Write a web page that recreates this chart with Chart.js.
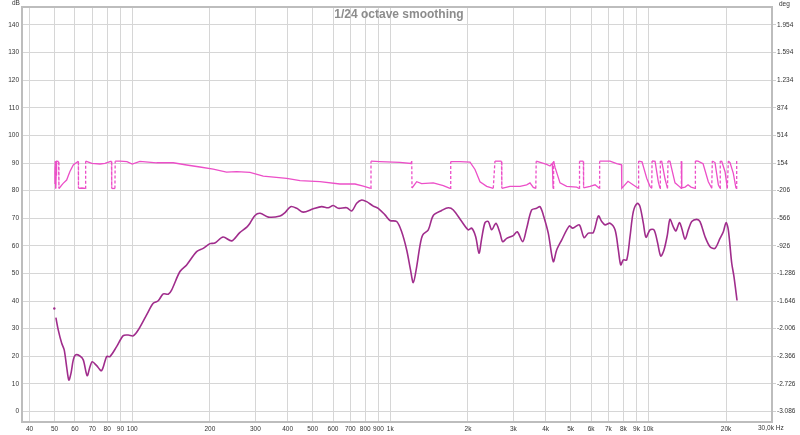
<!DOCTYPE html>
<html lang="en">
<head>
    <meta charset="UTF-8">
    <title>1/24 octave smoothing</title>
    <script src="https://cdn.jsdelivr.net/npm/chart.js"></script>
    <style>
        body { margin: 0; background: #fff; }
    </style>
</head>
<body>
    <canvas id="rewChart" width="800" height="435"></canvas>
    <script>
        // frequency response
        const magFreq = [49.9, null, 50.6, 51.7, 53.3, 54.5, 55.7, 56.8, 57.9, 59.1, 60.3, 62.7, 64.6, 66.9, 68.6, 70.0, 72.8, 76.1, 79.6, 82.0, 87.0,
            92.3, 96.5, 100.9, 105.5, 113.7, 120.6, 126.1, 131.9, 137.9, 142.1, 153.1, 162.5, 177.7, 188.4, 200, 209, 225, 243, 261, 278,
            286, 299, 313, 337, 374, 391, 411, 434, 460, 503, 542, 575, 601, 629, 678, 709, 741, 775, 810, 859, 898, 954, 997,
            1059, 1107, 1158, 1197, 1228, 1266, 1303, 1335, 1404, 1468, 1582, 1678, 1755, 1892, 2006, 2068, 2143, 2207, 2261,
            2329, 2398, 2472, 2568, 2662, 2727, 2826, 2997, 3106, 3260, 3378, 3532, 3693, 3803, 3917, 4095, 4282, 4414, 4615,
            4940, 5091, 5400, 5635, 5855, 6122, 6402, 6599, 6796, 7106, 7430, 7652, 7818, 8000, 8247, 8493, 8747, 9065, 9286,
            9564, 9797, 10150, 10520, 10840, 11170, 11500, 11850, 12130, 12500, 12800, 13190, 13470, 13880, 14290, 14730,
            15400, 15860, 16590, 17340, 18130, 18960, 19530, 20010, 20420, 21050, 21480, 22070];
        const magDb = [37.3, null, 34.0, 29.5, 24.7, 22.3, 16.2, 11.4, 13.8, 18.7, 20.5, 20.1, 18.7, 13.0, 16.2, 18.0, 16.6, 14.8, 19.9, 19.9, 23.5,
            27.5, 27.7, 27.4, 29.5, 35.0, 39.2, 40.1, 42.6, 42.5, 44.0, 50.7, 53.1, 57.9, 59.1, 60.8, 61.0, 63.2, 61.8, 64.8, 66.8,
            68.2, 71.0, 71.8, 70.4, 70.8, 72.0, 74.2, 73.6, 72.2, 73.4, 74.2, 73.8, 74.6, 73.6, 73.8, 72.6, 75.4, 76.6, 76.0, 74.4, 73.6, 71.2, 69.2,
            68.8, 65.1, 58.5, 51.5, 46.7, 52.5, 60.0, 63.9, 65.8, 71.0, 72.8, 73.8, 73.0, 68.8, 65.8, 66.4, 63.3, 57.3, 62.7,
            68.4, 68.8, 65.8, 68.2, 64.6, 61.5, 62.7, 63.7, 65.1, 61.5, 66.4, 73.0, 73.6, 74.2, 71.2, 64.6, 54.3, 58.5, 62.1,
            67.2, 66.4, 67.6, 63.0, 64.6, 64.8, 70.8, 68.8, 67.6, 68.2, 65.8, 58.5, 53.1, 54.9, 54.9, 63.3, 72.4, 75.4, 74.2,
            68.2, 63.1, 65.8, 65.8, 61.5, 56.3, 58.5, 63.9, 69.6, 66.9, 65.4, 68.4, 66.4, 62.4, 65.8, 68.8,
            69.6, 68.8, 63.3, 59.7, 59.1, 62.7, 65.1, 68.4, 65.8, 53.7, 48.8, 40.2];

        // phase, wrapped to +/-180 deg
        const phaseFreq = [49.9, 50.2, 50.4, 50.5, 50.7, 50.9, 51.8, 52.0, 54.0, 55.7, 57.3, 59.1, 61.8, 61.9, 63.8, 65.9, 66.0,
            69.8, 75.0, 78.4, 83.1, 83.3, 85.7, 85.9, 89.6, 95.4, 100, 107.1, 124.3, 144.2, 162.5, 183, 206, 232, 254, 286,
            322, 397, 447, 534, 638, 730, 786, 840, 842, 912, 1090, 1203, 1211, 1214, 1266, 1323, 1468, 1605, 1704, 1715,
            1863, 2037, 2130, 2227, 2364, 2507, 2545, 2698, 2706, 2910, 3182, 3378, 3479, 3583, 3664, 3677, 4037, 4158,
            4245, 4260, 4275, 4295, 4348, 4547, 4827, 5278, 5400, 5413, 5600, 5613, 5944, 6216, 6459, 6477, 7106, 7543,
            7873, 7891, 8342, 8724, 9146, 9170, 9453, 9857, 10150, 10310, 10340, 10620, 10930, 11100, 11130, 11270,
            11610, 11870, 11920, 12130, 12690, 13270, 13390, 13430, 13460, 13500, 13880, 14250, 14640, 15170, 15220,
            15580, 16300, 17080, 17610, 17700, 18130, 18680, 18960, 19000, 19250, 19830, 20240, 20420, 20730, 21350,
            21870, 22000];
        const phaseDeg = [-110, 60, 178, -178, 0, 178, 175, -178, -111, -68, 41, 128, 178, -176, -172, -178, 178,
            150, 141, 150, 178, -178, -178, 178, 178, 172, 141, 175, 157, 157, 128, 102, 73, 35, 41, 33,
            -16, -46, -77, -90, -120, -120, -146, -176, 178, 172, 163, 148, 178, -172, -90, -115, -104, -140, -176, 172,
            172, 165, 70, -90, -150, -176, 178, 178, -176, -150, -150, -130, -105, -165, -178, 178, 135, 115,
            150, 0, -178, 178, 100, -105, -150, -160, -178, 178, 178, -170, -150, -130, -176, 178, 178, 145,
            130, -176, -85, -130, -176, 180, 170, -45, -150, -176, 180, 175, -90, -176, 180, 175,
            -55, -176, 180, 175, -105, -160, -176, 178, 0, -170, -160, -130, -160, -176, 180,
            178, 145, -90, -176, 180, 160, -130, -176, 180, 175, 40, -176, 180, 160, 20,
            -176, 180];

        const xTicks = [40, 50, 60, 70, 80, 90, 100, 200, 300, 400, 500, 600, 700, 800, 900, 1000,
            2000, 3000, 4000, 5000, 6000, 7000, 8000, 9000, 10000, 20000, 30000];
        const xTickLabels = ['40', '50', '60', '70', '80', '90', '100', '200', '300', '400', '500', '600', '700', '800', '900', '1k',
            '2k', '3k', '4k', '5k', '6k', '7k', '8k', '9k', '10k', '20k', ''];
        const dbTicks = [0, 10, 20, 30, 40, 50, 60, 70, 80, 90, 100, 110, 120, 130, 140];
        const degTicks = [-3086, -2726, -2366, -2006, -1646, -1286, -926, -566, -206, 154, 514, 874, 1234, 1594, 1954];
        const degTickLabels = ['-3.086', '-2.726', '-2.366', '-2.006', '-1.646', '-1.286', '-926', '-566', '-206', '154',
            '514', '874', '1.234', '1.594', '1.954'];

        const dbMin = -3.8, dbMax = 146.5;
        // the phase axis sits on the dB axis: 154 deg at 90 dB, 360 deg per 10 dB
        const degMin = 154 + (dbMin - 90) * 36;
        const degMax = 154 + (dbMax - 90) * 36;

        const font = { family: "'Liberation Sans', Arial, sans-serif", size: 6.5 };

        const frame = {
            id: 'frame',
            afterDraw(chart) {
                const { ctx, chartArea: a } = chart;
                ctx.save();
                ctx.strokeStyle = '#bdbdbd';
                ctx.lineWidth = 2;
                ctx.strokeRect(a.left, a.top, a.right - a.left, a.bottom - a.top);
                ctx.fillStyle = '#8c8c8c';
                ctx.font = "bold 12px 'Liberation Sans', Arial, sans-serif";
                ctx.textAlign = 'center';
                ctx.textBaseline = 'middle';
                ctx.fillText('1/24 octave smoothing', 399, 15);
                ctx.fillStyle = '#333';
                ctx.font = "6.5px 'Liberation Sans', Arial, sans-serif";
                ctx.textAlign = 'left';
                ctx.fillText('dB', 12, 3);
                ctx.fillText('deg', 779, 4);
                ctx.fillText('30,0k Hz', 758, 428.5);
                ctx.restore();
            }
        };

        const ctx = document.getElementById('rewChart').getContext('2d');
        new Chart(ctx, {
            type: 'line',
            data: {
                datasets: [{
                    label: 'Phase',
                    data: phaseFreq.map((f, i) => ({ x: f, y: phaseDeg[i] })),
                    yAxisID: 'y1',
                    borderColor: '#ec4fc8',
                    borderWidth: 1.3,
                    pointRadius: 0,
                    tension: 0,
                    segment: {
                        // wraps from +180 to -180 are dashed
                        borderDash: c => Math.abs(c.p1.parsed.y - c.p0.parsed.y) > 320 ? [3, 2] : undefined
                    }
                }, {
                    label: 'SPL',
                    data: magFreq.map((f, i) => ({ x: f, y: magDb[i] })),
                    yAxisID: 'y',
                    borderColor: '#a02d8c',
                    backgroundColor: '#a02d8c',
                    borderWidth: 1.6,
                    pointRadius: c => c.dataIndex === 0 ? 1.2 : 0,
                    pointBorderWidth: 0,
                    spanGaps: false,
                    tension: 0.3
                }]
            },
            options: {
                responsive: false,
                animation: false,
                layout: { padding: { top: 7 } },
                plugins: { legend: { display: false }, tooltip: { enabled: false } },
                scales: {
                    x: {
                        type: 'logarithmic',
                        min: 37.4,
                        max: 30150,
                        afterBuildTicks: s => { s.ticks = xTicks.map(v => ({ value: v })); },
                        afterFit: s => { s.height = 13; },
                        grid: { color: '#d6d6d6', drawTicks: false },
                        border: { display: false },
                        ticks: {
                            autoSkip: false, maxRotation: 0, padding: 3, color: '#333', font: font,
                            callback: (v, i) => xTickLabels[i]
                        }
                    },
                    y: {
                        position: 'left',
                        min: dbMin,
                        max: dbMax,
                        afterBuildTicks: s => { s.ticks = dbTicks.map(v => ({ value: v })); },
                        afterFit: s => { s.width = 22; },
                        grid: { color: '#d6d6d6', drawTicks: false },
                        border: { display: false },
                        ticks: { padding: 3, color: '#333', font: font, callback: v => String(v) }
                    },
                    y1: {
                        position: 'right',
                        min: degMin,
                        max: degMax,
                        afterBuildTicks: s => { s.ticks = degTicks.map(v => ({ value: v })); },
                        afterFit: s => { s.width = 28; },
                        grid: { drawOnChartArea: false, drawTicks: true, tickLength: 4, color: '#cfcfcf' },
                        border: { display: false },
                        ticks: {
                            padding: 1, color: '#333', font: font,
                            callback: (v, i) => degTickLabels[i]
                        }
                    }
                }
            },
            plugins: [frame]
        });
    </script>
</body>
</html>
